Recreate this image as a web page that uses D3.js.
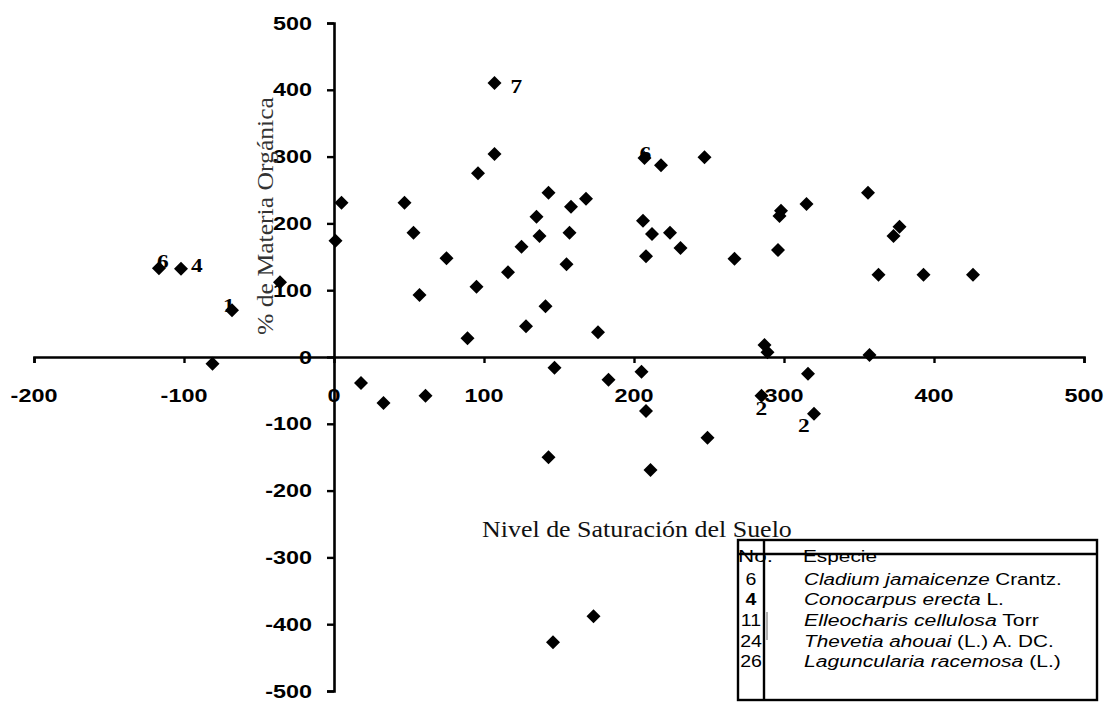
<!DOCTYPE html>
<html>
<head>
<meta charset="utf-8">
<script src="https://cdn.jsdelivr.net/npm/d3@7"></script>
<style>
  html, body { margin: 0; padding: 0; background: #fff; }
  svg { display: block; }
</style>
</head>
<body>
<svg id="chart" width="1113" height="702"></svg>
<script>
// ---- data ----
const xTicks = [-200, -100, 0, 100, 200, 300, 400, 500];
const yTicks = [-500, -400, -300, -200, -100, 0, 100, 200, 300, 400, 500];

const saturacion = [-116.7, -102, -68, -81, -36, 1, 5, 18, 33, 61, 47, 53, 57, 75, 89, 95, 96, 107, 107, 116,
  125, 128, 135, 137, 141, 143, 143, 147, 146, 155, 157, 158, 168, 176, 173, 183, 205, 206, 207, 208,
  208, 211, 212, 218, 224, 231, 247, 249, 267, 287, 289, 285, 296, 297, 298, 315, 316, 320, 356, 357,
  363, 373, 377, 393, 426];
const materia = [133, 132, 70, -10, 112, 174, 231, -39, -69, -58, 231, 186, 93, 148, 28, 105, 275, 304, 410, 127,
  165, 46, 210, 181, 76, 246, -150, -16, -427, 139, 186, 225, 237, 37, -388, -34, -22, 204, 298, 151,
  -81, -169, 184, 287, 186, 163, 299, -121, 147, 18, 7, -58, 160, 211, 219, 229, -25, -85, 246, 3,
  123, 181, 195, 123, 123];

const labelIndex = [0, 1, 2, 18, 38, 51, 57];
const labelText  = ["6", "4", "1", "7", "6", "2", "2"];

const xTitle = "Nivel de Saturación del Suelo";
const yTitle = "% de Materia Orgánica";

const legendHeader = ["No.", "Especie"];
const legendNo = ["6", "4", "11", "24", "26"];
const legendItalic = ["Cladium jamaicenze", "Conocarpus erecta", "Elleocharis cellulosa", "Thevetia ahouai", "Laguncularia racemosa"];
const legendAuthor = [" Crantz.", " L.", " Torr", " (L.) A. DC.", " (L.)"];

// ---- layout / style ----
const svg = d3.select("#chart");
const x = d3.scaleLinear().domain([-200, 500]).range([34, 1084]);
const y = d3.scaleLinear().domain([-500, 500]).range([691, 23]);

const SANS = "'Liberation Sans', Arial, sans-serif";
const SERIF = "'Liberation Serif', 'Times New Roman', serif";
const XS = 1.3;

// axes
const xAxis = d3.axisBottom(x).tickValues(xTicks).tickSize(6).tickFormat("");
const yAxis = d3.axisLeft(y).tickValues(yTicks).tickSize(7).tickFormat("");

const gx = svg.append("g").attr("transform", `translate(0,${y(0)})`).call(xAxis);
const gy = svg.append("g").attr("transform", `translate(${x(0)},0)`).call(yAxis);
[gx, gy].forEach(g => {
  g.select(".domain").attr("stroke", "#000").attr("stroke-width", 2.6);
  g.selectAll(".tick line").attr("stroke", "#000").attr("stroke-width", 2.4);
});

// tick labels
xTicks.forEach(v => {
  svg.append("text")
    .attr("transform", `translate(${x(v)},402) scale(${XS},1)`)
    .attr("text-anchor", "middle")
    .attr("font-family", SANS).attr("font-weight", "bold").attr("font-size", 18)
    .text(v);
});
yTicks.forEach(v => {
  svg.append("text")
    .attr("transform", `translate(312,${y(v) + 6.5}) scale(${XS},1)`)
    .attr("text-anchor", "end")
    .attr("font-family", SANS).attr("font-weight", "bold").attr("font-size", 18)
    .text(v);
});

// axis titles
(function () {
  const t = svg.append("text")
    .attr("font-family", SERIF).attr("font-size", 24).attr("fill", "#111")
    .text(xTitle);
  const s = 310 / t.node().getComputedTextLength();
  t.attr("transform", `translate(482,537) scale(${s},1)`);

  const t2 = svg.append("text")
    .attr("font-family", SERIF).attr("font-size", 24).attr("fill", "#333")
    .attr("text-anchor", "middle")
    .text(yTitle);
  const s2 = 238 / t2.node().getComputedTextLength();
  t2.attr("transform", `translate(273,216) rotate(-90) scale(${s2},1)`);
})();

// points
const diamond = "M0,-7L7,0L0,7L-7,0Z";
svg.append("g").selectAll("path")
  .data(saturacion.map((v, i) => [v, materia[i]]))
  .join("path")
  .attr("d", diamond)
  .attr("transform", d => `translate(${x(d[0])},${y(d[1])})`)
  .attr("fill", "#000");

// point labels
const labelDx = [-2, 10, -9, 16, -5, -6, -16];
const labelDy = [0, 3, 2, 10, 2, 19, 18];
labelIndex.forEach((idx, k) => {
  svg.append("text")
    .attr("transform", `translate(${x(saturacion[idx]) + labelDx[k]},${y(materia[idx]) + labelDy[k]}) scale(${XS},1)`)
    .attr("font-family", SERIF).attr("font-weight", "bold").attr("font-size", 18)
    .text(labelText[k]);
});

// legend table
const L = { x0: 738, x1: 1097, y0: 540, y1: 700, yh: 554, xd: 764 };
const lg = svg.append("g");
lg.append("rect").attr("x", L.x0).attr("y", L.y0).attr("width", L.x1 - L.x0).attr("height", L.y1 - L.y0)
  .attr("fill", "#fff").attr("stroke", "#000").attr("stroke-width", 2.4);

function legendText(xp, yp, width, parts) {
  const t = lg.append("text").attr("font-family", SANS).attr("font-size", 17);
  parts.forEach(p => t.append("tspan").attr("font-style", p[1] ? "italic" : "normal").text(p[0]));
  const s = width / t.node().getComputedTextLength();
  t.attr("transform", `translate(${xp},${yp}) scale(${s},1)`);
}
legendText(738, 562, 35, [[legendHeader[0], false]]);
legendText(803, 562, 74, [[legendHeader[1], false]]);
lg.append("line").attr("x1", L.x0).attr("x2", L.x1).attr("y1", L.yh).attr("y2", L.yh)
  .attr("stroke", "#000").attr("stroke-width", 2.4);
lg.append("line").attr("x1", L.xd).attr("x2", L.xd).attr("y1", L.y0).attr("y2", L.y1)
  .attr("stroke", "#000").attr("stroke-width", 2.4);
lg.append("line").attr("x1", L.xd + 3).attr("x2", L.xd + 3).attr("y1", 612).attr("y2", 640)
  .attr("stroke", "#999").attr("stroke-width", 1.5);

const rowBase = [585, 605, 626, 647, 667];
const rowWidth = [258, 200, 235, 250, 257];
legendNo.forEach((n, i) => {
  lg.append("text").attr("font-family", SANS).attr("font-size", 17)
    .attr("font-weight", i === 1 ? "bold" : "normal")
    .attr("text-anchor", "middle")
    .attr("transform", `translate(751,${rowBase[i]}) scale(1.15,1)`)
    .text(n);
  legendText(804, rowBase[i], rowWidth[i], [[legendItalic[i], true], [legendAuthor[i], false]]);
});
</script>
</body>
</html>
